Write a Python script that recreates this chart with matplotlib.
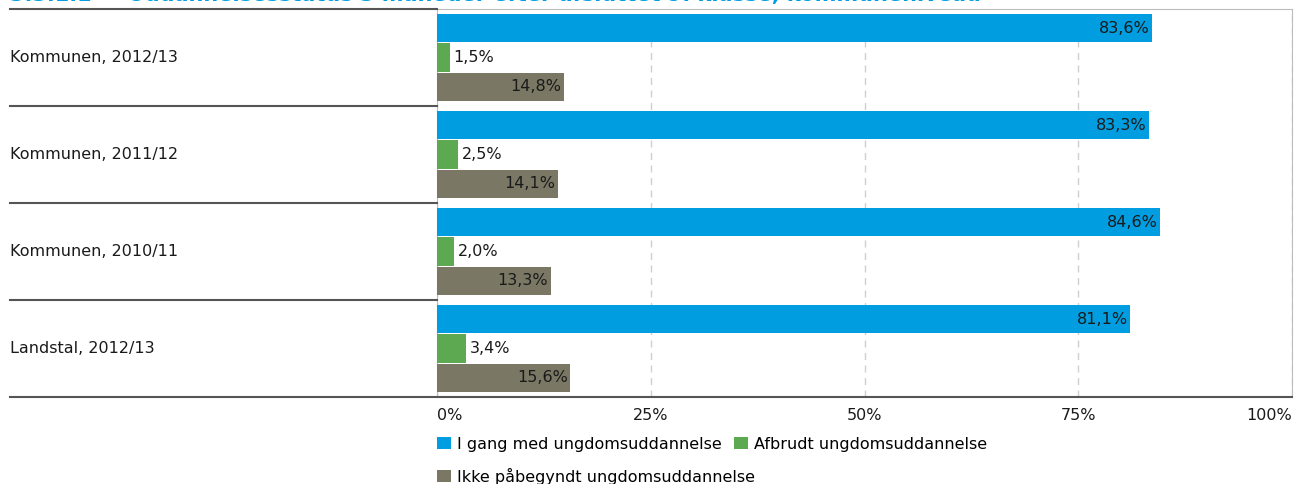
import matplotlib
matplotlib.use("Agg")
import matplotlib.pyplot as plt
from matplotlib.patches import Patch
import numpy as np

BLUE = "#009EE0"
GREEN = "#5CA951"
GREY = "#7A7764"
TXT = "#1A1A1A"

categories = ["Kommunen, 2012/13", "Kommunen, 2011/12", "Kommunen, 2010/11", "Landstal, 2012/13"]
i_gang = [83.6, 83.3, 84.6, 81.1]
afbrudt = [1.5, 2.5, 2.0, 3.4]
ikke_paabegyndt = [14.8, 14.1, 13.3, 15.6]
series_names = ["I gang med ungdomsuddannelse", "Afbrudt ungdomsuddannelse",
                "Ikke påbegyndt ungdomsuddannelse"]
xticks = [0, 25, 50, 75, 100]

plt.rcParams.update({"font.family": "DejaVu Sans", "font.size": 11.5})

fig = plt.figure(figsize=(12.96, 4.84), dpi=100)
ax = fig.add_axes([437/1296, 1 - 397/484, 855/1296, 388/484])

y = np.arange(len(categories))
h = 0.29
off = 0.30
ax.barh(y - off, i_gang, height=h, color=BLUE, zorder=3)
ax.barh(y, afbrudt, height=h, color=GREEN, zorder=3)
ax.barh(y + off, ikke_paabegyndt, height=h, color=GREY, zorder=3)

fmt = lambda v: f"{v:.1f}%".replace(".", ",")
for i in range(len(categories)):
    ax.text(i_gang[i] - 0.3, y[i] - off, fmt(i_gang[i]), ha="right", va="center", color=TXT)
    ax.text(afbrudt[i] + 0.4, y[i], fmt(afbrudt[i]), ha="left", va="center", color=TXT)
    ax.text(ikke_paabegyndt[i] - 0.3, y[i] + off, fmt(ikke_paabegyndt[i]), ha="right", va="center", color=TXT)

ax.set_xlim(0, 100)
ax.set_ylim(len(categories) - 0.5, -0.5)
ax.set_yticks([])
ax.set_xticks(xticks)
ax.set_xticklabels([f"{t}%" for t in xticks], color=TXT)
ax.tick_params(axis="x", length=0, pad=8)
labs = ax.get_xticklabels()
labs[0].set_horizontalalignment("left")
labs[-1].set_horizontalalignment("right")

ax.grid(axis="x", color="#CFCFCF", linestyle=(0, (5, 4)), linewidth=1, zorder=0)
for s in ["left", "top", "right"]:
    ax.spines[s].set_color("#BDBDBD")
ax.spines["bottom"].set_visible(False)

# labels and separators in the left column
tr = ax.get_yaxis_transform()
xl = -427 / 855
for i, c in enumerate(categories):
    ax.text(xl, y[i], c, ha="left", va="center", transform=tr, color=TXT)
for b in np.arange(len(categories) + 1) - 0.5:
    x1 = 1.0 if b == len(categories) - 0.5 else 0.0
    ax.plot([xl, x1], [b, b], color="#555555", lw=1.5, transform=tr, clip_on=False, zorder=4)

# title, partly cut off at the top as in the source
fig.text(10/1296, 1 - 1/484, "3.3.1.1     Uddannelsesstatus 3 måneder efter afsluttet 9. klasse, kommuneniveau",
         color="#009EE0", fontsize=15, fontweight="bold", ha="left", va="baseline")

# legend (two rows)
h1 = [Patch(facecolor=BLUE, label=series_names[0]), Patch(facecolor=GREEN, label=series_names[1])]
h2 = [Patch(facecolor=GREY, label=series_names[2])]
kw = dict(frameon=False, handlelength=0.85, handleheight=0.85, handletextpad=0.4,
          columnspacing=0.8, borderaxespad=0, borderpad=0, fontsize=11.5)
fig.legend(handles=h1, ncol=2, loc="center left",
           bbox_to_anchor=(437/1296, 1 - 444/484), **kw)
fig.legend(handles=h2, loc="center left", bbox_to_anchor=(437/1296, 1 - 476/484), **kw)

fig.savefig("out.png", dpi=100, facecolor="white")
